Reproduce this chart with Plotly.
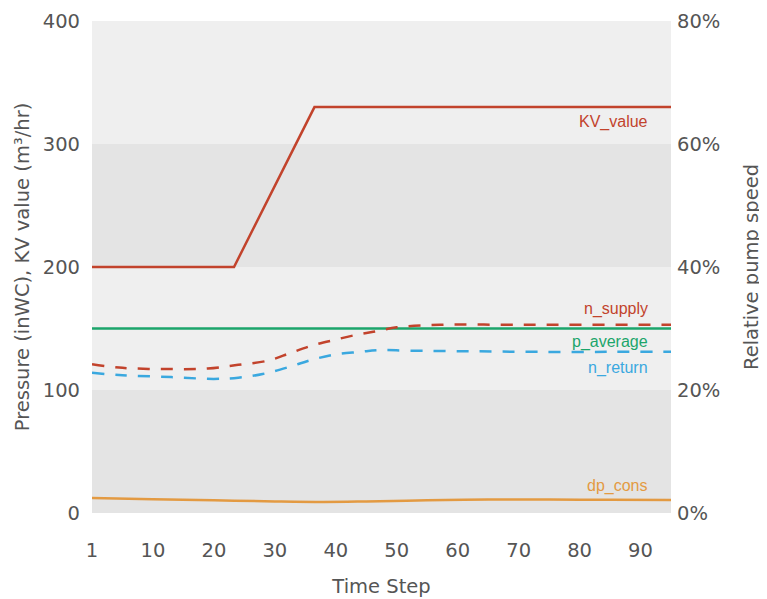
import plotly.graph_objects as go

# ---- data (x = time-step index; ticks labelled 1,10,...,90) ----
tick_vals = [0, 10, 20, 30, 40, 50, 60, 70, 80, 90]
tick_text = ["1", "10", "20", "30", "40", "50", "60", "70", "80", "90"]
y_vals = [0, 100, 200, 300, 400]
y2_vals = [0, 20, 40, 60, 80]
y2_text = ["0%", "20%", "40%", "60%", "80%"]

kv_x = [0, 23.3, 36.5, 95]
kv_y = [200, 200, 330, 330]

pavg_x = [0, 95]
pavg_y = [150, 150]

nsup_x = [0, 5, 13, 19, 24, 29, 32.5, 36, 40, 44, 47, 50, 57, 70, 80, 95]
nsup_y = [24.2, 23.6, 23.4, 23.5, 24.1, 24.8, 26.0, 27.2, 28.2, 29.1, 29.6, 30.2, 30.6, 30.6, 30.6, 30.6]

nret_x = [0, 5, 13, 20, 24, 28, 32.5, 36, 40, 44, 47, 52, 62, 73, 85, 95]
nret_y = [22.8, 22.4, 22.1, 21.8, 22.0, 22.6, 23.8, 24.9, 25.8, 26.2, 26.5, 26.4, 26.3, 26.2, 26.2, 26.2]

dp_x = [0, 10, 20, 30, 38, 45, 55, 65, 75, 85, 95]
dp_y = [12.2, 11.2, 10.3, 9.4, 9.0, 9.4, 10.3, 11.0, 10.9, 10.7, 10.6]

bands = [(0, 100, "#e4e4e4"), (100, 200, "#efefef"), (200, 300, "#e4e4e4"), (300, 400, "#efefef")]

RED = "#c2432c"
GREEN = "#1ba56b"
BLUE = "#3aa8df"
ORANGE = "#e39a42"
TXT = "#555555"
FONT = "DejaVu Sans, sans-serif"
LFONT = "Liberation Sans, Arial, sans-serif"

fig = go.Figure()
fig.add_trace(go.Scatter(x=kv_x, y=kv_y, mode="lines", line=dict(color=RED, width=2.5), name="KV_value"))
fig.add_trace(go.Scatter(x=pavg_x, y=pavg_y, mode="lines", line=dict(color=GREEN, width=2.5), name="p_average"))
fig.add_trace(go.Scatter(x=dp_x, y=dp_y, mode="lines", line=dict(color=ORANGE, width=2.5, shape="spline"), name="dp_cons"))
fig.add_trace(go.Scatter(x=nsup_x, y=nsup_y, mode="lines", yaxis="y2",
                         line=dict(color=RED, width=2.5, dash="12px,11px", shape="spline"), name="n_supply"))
fig.add_trace(go.Scatter(x=nret_x, y=nret_y, mode="lines", yaxis="y2",
                         line=dict(color=BLUE, width=2.5, dash="12px,11px", shape="spline"), name="n_return"))

shapes = [dict(type="rect", xref="paper", yref="y", x0=0, x1=1, y0=a, y1=b,
               fillcolor=c, line=dict(width=0), layer="below") for a, b, c in bands]

labels = [("KV_value", 318, RED), ("n_supply", 166, RED), ("p_average", 139, GREEN),
          ("n_return", 118, BLUE), ("dp_cons", 22, ORANGE)]
annotations = [dict(x=91.5, y=yv, xref="x", yref="y", text=t, showarrow=False, xanchor="right",
                    yanchor="middle", font=dict(family=LFONT, size=16, color=c)) for t, yv, c in labels]

fig.update_layout(
    width=767, height=599,
    margin=dict(l=84, r=104, t=13, b=94),
    paper_bgcolor="white", plot_bgcolor="#efefef",
    showlegend=False,
    shapes=shapes, annotations=annotations,
    font=dict(family=FONT, color=TXT),
    xaxis=dict(range=[0, 95], tickmode="array", tickvals=tick_vals, ticktext=tick_text, showgrid=False,
               zeroline=False, automargin=False,
               showline=False, ticks="", tickfont=dict(size=19.5, color=TXT), ticklabelstandoff=23,
               title=dict(text="Time Step", font=dict(size=19.5, color=TXT), standoff=18)),
    yaxis=dict(range=[0, 400], tickmode="array", tickvals=y_vals, showgrid=False, zeroline=False,
               automargin=False,
               showline=False, ticks="", tickfont=dict(size=19.5, color=TXT), ticklabelstandoff=11,
               title=dict(text="Pressure (inWC), KV value (m³/hr)", font=dict(size=19.5, color=TXT), standoff=7)),
    yaxis2=dict(range=[0, 80], overlaying="y", side="right", tickmode="array", tickvals=y2_vals,
                ticktext=y2_text, showgrid=False, zeroline=False, showline=False, ticks="",
                automargin=False,
                tickfont=dict(size=19.5, color=TXT), ticklabelstandoff=5,
                title=dict(text="Relative pump speed", font=dict(size=19.5, color=TXT), standoff=25)),
)

fig.write_html("out.html")
